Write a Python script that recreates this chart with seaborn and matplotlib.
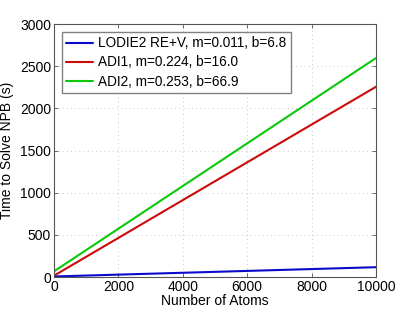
import matplotlib
matplotlib.use("Agg")
import matplotlib.pyplot as plt
import seaborn as sns
import pandas as pd

# Data (endpoints)
atoms = [0, 10000]
lodie2 = [6.8, 116.8]
adi1 = [16.0, 2256.0]
adi2 = [66.9, 2596.9]
labels = ["LODIE2 RE+V, m=0.011, b=6.8", "ADI1, m=0.224, b=16.0", "ADI2, m=0.253, b=66.9"]
colors = ["#0a0acc", "#cc0a0a", "#0ac80a"]
xticks = [0, 2000, 4000, 6000, 8000, 10000]
yticks = [0, 500, 1000, 1500, 2000, 2500, 3000]

rows = []
for lab, ys in zip(labels, [lodie2, adi1, adi2]):
    for x, y in zip(atoms, ys):
        rows.append({"Number of Atoms": x, "Time": y, "series": lab})
df = pd.DataFrame(rows)

sns.set_style("white")
plt.rcParams['font.family'] = ['Liberation Sans', 'DejaVu Sans']
plt.rcParams['text.color'] = 'black'
plt.rcParams['axes.labelcolor'] = 'black'

fig = plt.figure(figsize=(4.15, 3.12), dpi=100)
ax = fig.add_axes([0.130, 0.112, 0.776, 0.811])
sns.lineplot(data=df, x="Number of Atoms", y="Time", hue="series",
             palette=dict(zip(labels, colors)), hue_order=labels,
             linewidth=1.5, ax=ax)
ax.set_xlim(0, 10000)
ax.set_ylim(0, 3000)
ax.set_xticks(xticks)
ax.set_yticks(yticks)
ax.tick_params(direction="in", length=3, labelsize=10, colors="#555555",
               labelcolor="black",
               top=True, right=True, bottom=True, left=True, width=0.6, pad=2)
for s in ax.spines.values():
    s.set_color("#555555")
    s.set_linewidth(0.8)
ax.grid(True, linestyle=(0, (1, 4)), color="#b8b8b8", linewidth=0.6)
ax.set_xlabel("Number of Atoms", fontsize=10, labelpad=0)
ax.set_ylabel("Time to Solve NPB (s)", fontsize=10, labelpad=4)
leg = ax.legend(loc="upper left", fontsize=9.8, frameon=True, fancybox=False,
                edgecolor="#808080", handlelength=2.0, borderaxespad=0.6,
                labelspacing=0.38, handletextpad=0.35, borderpad=0.3)
leg.get_frame().set_linewidth(1.0)
leg.get_frame().set_alpha(1)
fig.savefig("out.png", dpi=100)
